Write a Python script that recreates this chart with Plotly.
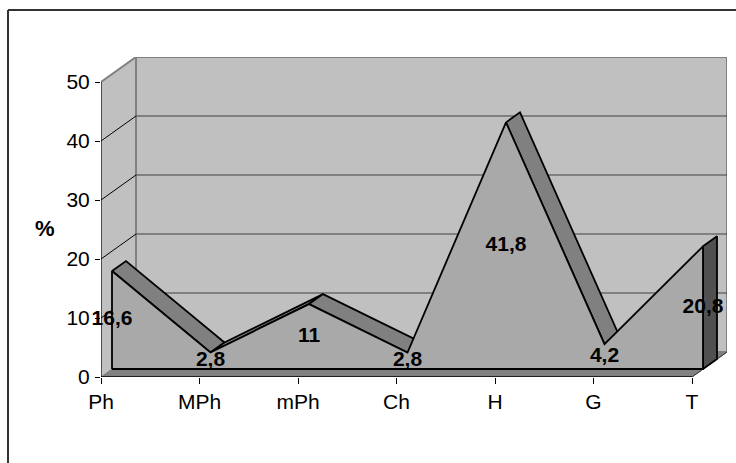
import plotly.graph_objects as go

# ---- data ----
categories = ["Ph", "MPh", "mPh", "Ch", "H", "G", "T"]
values = [16.6, 2.8, 11, 2.8, 41.8, 4.2, 20.8]
value_labels = ["16,6", "2,8", "11", "2,8", "41,8", "4,2", "20,8"]
y_ticks = [0, 10, 20, 30, 40, 50]

# ---- geometry (pixel constants -> data units) ----
W, H = 736, 463
L_PX, R_PX, T_PX, B_PX = 101, 727, 57, 377
PX_PER_CAT = 98.5
PX_PER_PCT = 5.9
WALL = (35 / PX_PER_CAT, 25 / PX_PER_PCT)      # back wall offset
SFRONT = (11 / PX_PER_CAT, 8 / PX_PER_PCT)     # series front face offset
SBACK = (25 / PX_PER_CAT, 18 / PX_PER_PCT)     # series back face offset
n = len(categories)
last = n - 1
YMAX = 50

WALL_C = "#C0C0C0"
FLOOR_C = "#808080"
AREA_C = "#A9A9A9"
RIBBON_C = "#808080"
SIDE_C = "#505050"
FONT = "Arial, Liberation Sans"

fig = go.Figure()


def poly(xs, ys, fill, line_color, lw):
    fig.add_trace(go.Scatter(x=list(xs) + [xs[0]], y=list(ys) + [ys[0]], mode="lines",
                             fill="toself", fillcolor=fill,
                             line=dict(color=line_color, width=lw),
                             hoverinfo="skip", showlegend=False))


def seg(xs, ys, color, lw):
    fig.add_trace(go.Scatter(x=xs, y=ys, mode="lines", line=dict(color=color, width=lw),
                             hoverinfo="skip", showlegend=False))


wx, wy = WALL
# side wall
poly([0, 0, wx, wx], [0, YMAX, YMAX + wy, wy], WALL_C, WALL_C, 1)
# back wall
poly([wx, last + wx, last + wx, wx], [wy, wy, YMAX + wy, YMAX + wy], WALL_C, "#808080", 2)
# gridlines
for t in y_ticks[1:-1]:
    seg([wx, last + wx], [t + wy, t + wy], "#404040", 1)
    seg([0, wx], [t, t + wy], "#000000", 1)
seg([0, wx], [YMAX, YMAX + wy], "#808080", 2)
# floor
poly([0, last, last + wx, wx], [0, 0, wy, wy], FLOOR_C, FLOOR_C, 1)
seg([last, last + wx], [0, wy], "#333333", 1)

sx, sy = SFRONT
bx, by = SBACK
ddx, ddy = bx - sx, by - sy
# ribbon top faces (only those facing the viewer)
for i in range(n - 1):
    v0, v1 = values[i], values[i + 1]
    if (v1 - v0) * ddx < ddy:
        poly([i + sx, i + 1 + sx, i + 1 + bx, i + bx],
             [v0 + sy, v1 + sy, v1 + by, v0 + by], RIBBON_C, "#000000", 1.8)
# right side face of last point
poly([last + sx, last + sx, last + bx, last + bx],
     [sy, values[-1] + sy, values[-1] + by, by], SIDE_C, "#000000", 1.8)
# front face of the area
fx = [sx] + [i + sx for i in range(n)] + [last + sx]
fy = [sy] + [v + sy for v in values] + [sy]
poly(fx, fy, AREA_C, "#000000", 1.8)

# front axis lines
seg([0, 0], [0, YMAX], "#000000", 1.2)
seg([0, last], [0, 0], "#000000", 1.5)

# data labels
fig.add_trace(go.Scatter(x=[i + sx for i in range(n)], y=[v / 2 + sy for v in values],
                         mode="text", text=value_labels, cliponaxis=False,
                         textfont=dict(family=FONT, size=21, color="#000000", weight="bold"),
                         hoverinfo="skip", showlegend=False))

xr = (R_PX - L_PX) / PX_PER_CAT
yr = (B_PX - T_PX) / PX_PER_PCT


def px_x(p):
    return (p - L_PX) / (R_PX - L_PX)


def px_y(p):
    return (B_PX - p) / (B_PX - T_PX)


fig.update_layout(
    width=W, height=H, autosize=False,
    margin=dict(l=L_PX, r=W - R_PX, t=T_PX, b=H - B_PX, pad=0),
    paper_bgcolor="white", plot_bgcolor="rgba(0,0,0,0)",
    font=dict(family=FONT, size=21, color="#000000"),
    xaxis=dict(range=[0, xr], tickmode="array", tickvals=list(range(n)), ticktext=categories,
               showgrid=False, zeroline=False, showline=False, ticks="outside", ticklen=6,
               tickcolor="#000000", tickwidth=1, ticklabelstandoff=0, fixedrange=True),
    yaxis=dict(range=[0, yr], tickmode="array", tickvals=y_ticks,
               ticktext=[str(t) for t in y_ticks],
               showgrid=False, zeroline=False, showline=False, ticks="outside", ticklen=5,
               tickcolor="#000000", tickwidth=1, ticklabelstandoff=1, fixedrange=True),
    annotations=[dict(text="<b>%</b>", xref="paper", yref="paper", x=px_x(45), y=px_y(228),
                      showarrow=False, font=dict(size=22), xanchor="center", yanchor="middle")],
    shapes=[
        dict(type="line", xref="paper", yref="paper", x0=px_x(8), x1=px_x(8),
             y0=px_y(470), y1=px_y(10), line=dict(color="#333333", width=2)),
        dict(type="line", xref="paper", yref="paper", x0=px_x(8), x1=px_x(745),
             y0=px_y(10), y1=px_y(10), line=dict(color="#333333", width=2)),
    ],
)

fig.write_html("out.html")
